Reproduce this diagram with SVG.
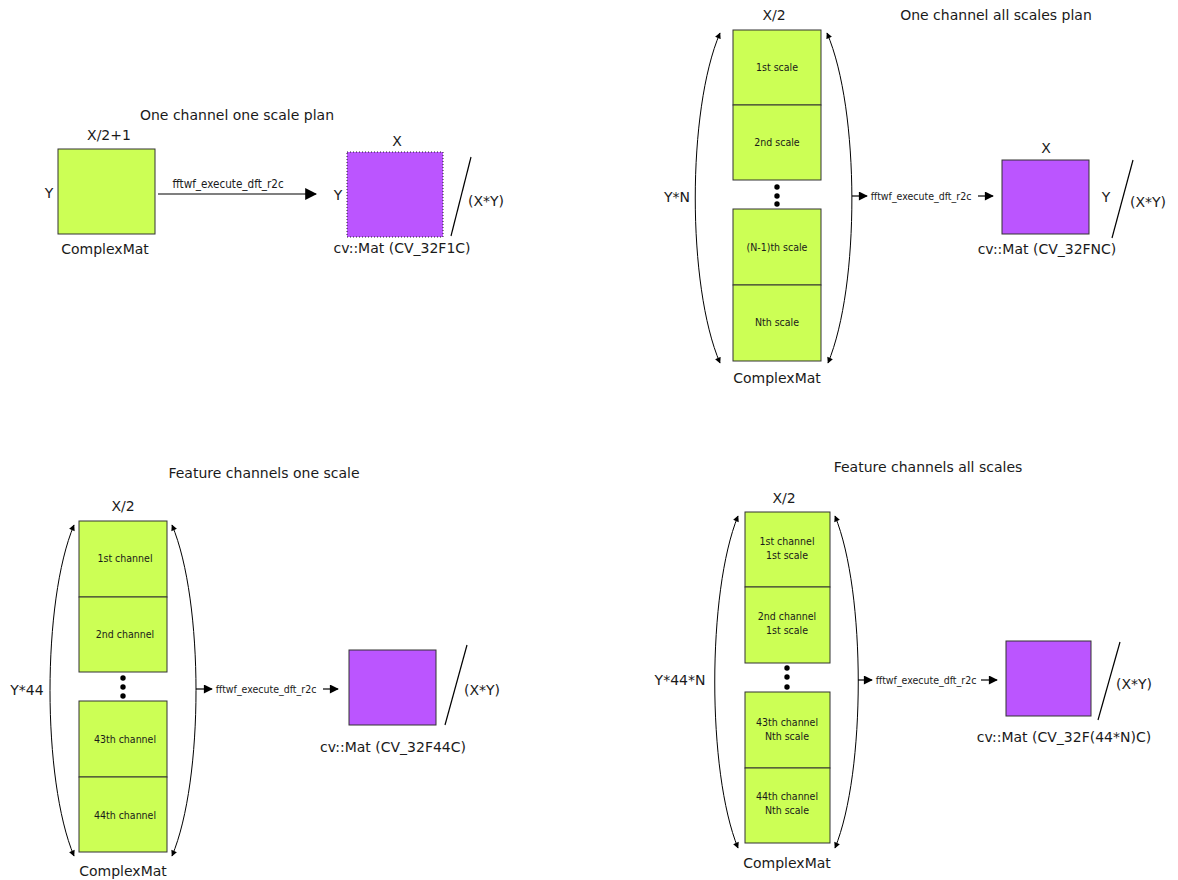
<svg xmlns="http://www.w3.org/2000/svg" width="1178" height="880" viewBox="0 0 1178 880">
  <style>
    text { font-family: "DejaVu Sans", "Liberation Sans", sans-serif; fill: #1a1a1a; }
    .lbl { font-size: 14px; text-anchor: middle; }
    .fn { font-family: "DejaVu Sans Condensed", "DejaVu Sans", sans-serif; font-stretch: condensed; font-size: 10.5px; text-anchor: middle; }
    .fn-big { font-size: 11.6px; }
    .cell-t { font-family: "DejaVu Sans Condensed", "DejaVu Sans", sans-serif; font-stretch: condensed; font-size: 10.5px; text-anchor: middle; }
    .cell { fill: #ccff55; stroke: #333; stroke-width: 1; }
    .mat { fill: #bb55ff; stroke: #333; stroke-width: 1; }
    .dotted { stroke: #222; stroke-dasharray: 1 2; }
    .dim { fill: none; stroke: #000; stroke-width: 1; marker-start: url(#tip); marker-end: url(#tip); }
    .flow { fill: none; stroke: #000; stroke-width: 1.2; marker-end: url(#head); }
    .slash { stroke: #000; stroke-width: 1.2; }
    .dot { fill: #000; }
  </style>
  <defs>
    <marker id="tip" viewBox="0 0 10 10" refX="9" refY="5" markerWidth="7" markerHeight="6" markerUnits="userSpaceOnUse" orient="auto-start-reverse">
      <path d="M0,0 L10,5 L0,10 Z" fill="#000"/>
    </marker>
    <marker id="head" viewBox="0 0 10 10" refX="9" refY="5" markerWidth="10" markerHeight="9" markerUnits="userSpaceOnUse" orient="auto">
      <path d="M0,0 L10,5 L0,10 Z" fill="#000"/>
    </marker>
    <marker id="headL" viewBox="0 0 10 10" refX="9" refY="5" markerWidth="12" markerHeight="13" markerUnits="userSpaceOnUse" orient="auto">
      <path d="M0,0 L10,5 L0,10 Z" fill="#000"/>
    </marker>
  </defs>

  <!-- ===== One channel one scale plan ===== -->
  <text class="lbl" x="237" y="120">One channel one scale plan</text>
  <g id="p1-complex">
    <rect class="cell" x="58" y="149" width="97" height="85"/>
    <text class="lbl" x="109" y="140">X/2+1</text>
    <text class="lbl" x="49" y="198">Y</text>
    <text class="lbl" x="105" y="254">ComplexMat</text>
  </g>
  <g id="p1-mat">
    <rect class="mat dotted" x="347" y="152" width="96" height="85"/>
    <text class="lbl" x="397" y="146">X</text>
    <text class="lbl" x="338" y="200">Y</text>
    <line class="slash" x1="471" y1="157" x2="451" y2="236"/>
    <text class="lbl" x="486" y="206">(X*Y)</text>
    <text class="lbl" x="402" y="253">cv::Mat (CV_32F1C)</text>
  </g>

  <!-- ===== One channel all scales plan ===== -->
  <text class="lbl" x="996" y="20">One channel all scales plan</text>
  <g id="p2-complex">
    <rect class="cell" x="733" y="30" width="88" height="75"/>
    <rect class="cell" x="733" y="105" width="88" height="75"/>
    <rect class="cell" x="733" y="209" width="88" height="76"/>
    <rect class="cell" x="733" y="285" width="88" height="76"/>
    <text class="cell-t" x="777" y="71">1st scale</text>
    <text class="cell-t" x="777" y="146">2nd scale</text>
    <text class="cell-t" x="777" y="251">(N-1)th scale</text>
    <text class="cell-t" x="777" y="326">Nth scale</text>
    <circle class="dot" cx="777" cy="187" r="2.7"/>
    <circle class="dot" cx="777" cy="196" r="2.7"/>
    <circle class="dot" cx="777" cy="204" r="2.7"/>
    <text class="lbl" x="774" y="20">X/2</text>
    <text class="lbl" x="677" y="202">Y*N</text>
    <text class="lbl" x="777" y="383">ComplexMat</text>
  </g>
  <g id="p2-mat">
    <rect class="mat" x="1002" y="160" width="87" height="74"/>
    <text class="lbl" x="1046" y="153">X</text>
    <text class="lbl" x="1106" y="202">Y</text>
    <line class="slash" x1="1133" y1="160" x2="1112" y2="238"/>
    <text class="lbl" x="1148" y="207">(X*Y)</text>
    <text class="lbl" x="1047" y="254">cv::Mat (CV_32FNC)</text>
  </g>

  <!-- ===== Feature channels one scale ===== -->
  <text class="lbl" x="264" y="478">Feature channels one scale</text>
  <g id="p3-complex">
    <rect class="cell" x="79" y="521" width="88" height="76"/>
    <rect class="cell" x="79" y="597" width="88" height="75"/>
    <rect class="cell" x="79" y="701" width="88" height="76"/>
    <rect class="cell" x="79" y="777" width="88" height="75"/>
    <text class="cell-t" x="125" y="562">1st channel</text>
    <text class="cell-t" x="125" y="638">2nd channel</text>
    <text class="cell-t" x="125" y="743">43th channel</text>
    <text class="cell-t" x="125" y="819">44th channel</text>
    <circle class="dot" cx="123" cy="678" r="2.7"/>
    <circle class="dot" cx="123" cy="687" r="2.7"/>
    <circle class="dot" cx="123" cy="696" r="2.7"/>
    <text class="lbl" x="123" y="511">X/2</text>
    <text class="lbl" x="27" y="695">Y*44</text>
    <text class="lbl" x="123" y="876">ComplexMat</text>
  </g>
  <g id="p3-mat">
    <rect class="mat" x="349" y="650" width="87" height="75"/>
    <line class="slash" x1="467" y1="645" x2="445" y2="725"/>
    <text class="lbl" x="482" y="695">(X*Y)</text>
    <text class="lbl" x="393" y="752">cv::Mat (CV_32F44C)</text>
  </g>

  <!-- ===== Feature channels all scales ===== -->
  <text class="lbl" x="928" y="472">Feature channels all scales</text>
  <g id="p4-complex">
    <rect class="cell" x="745" y="512" width="85" height="75"/>
    <rect class="cell" x="745" y="587" width="85" height="76"/>
    <rect class="cell" x="745" y="692" width="85" height="76"/>
    <rect class="cell" x="745" y="768" width="85" height="75"/>
    <text class="cell-t" x="787" y="545">1st channel</text>
    <text class="cell-t" x="787" y="559">1st scale</text>
    <text class="cell-t" x="787" y="620">2nd channel</text>
    <text class="cell-t" x="787" y="634">1st scale</text>
    <text class="cell-t" x="787" y="726">43th channel</text>
    <text class="cell-t" x="787" y="740">Nth scale</text>
    <text class="cell-t" x="787" y="800">44th channel</text>
    <text class="cell-t" x="787" y="814">Nth scale</text>
    <circle class="dot" cx="787" cy="668" r="2.7"/>
    <circle class="dot" cx="787" cy="677" r="2.7"/>
    <circle class="dot" cx="787" cy="687" r="2.7"/>
    <text class="lbl" x="784" y="503">X/2</text>
    <text class="lbl" x="680" y="685">Y*44*N</text>
    <text class="lbl" x="787" y="868">ComplexMat</text>
  </g>
  <g id="p4-mat">
    <rect class="mat" x="1006" y="641" width="85" height="75"/>
    <line class="slash" x1="1120" y1="642" x2="1098" y2="720"/>
    <text class="lbl" x="1134" y="689">(X*Y)</text>
    <text class="lbl" x="1064" y="742">cv::Mat (CV_32F(44*N)C)</text>
  </g>

  <!-- ===== Connectors ===== -->
  <g id="connectors">
    <!-- panel 1 -->
    <path class="flow" style="marker-end:url(#headL)" d="M158,194 H316"/>
    <text class="fn fn-big" x="228" y="188">fftwf_execute_dft_r2c</text>

    <!-- panel 2 -->
    <path class="dim" d="M720,33 C687,110 687,286 720,363"/>
    <path class="dim" d="M827,33 C860,110 860,286 828,363"/>
    <path class="flow" d="M852,196 H867"/>
    <text class="fn" x="921" y="200">fftwf_execute_dft_r2c</text>
    <path class="flow" d="M978,196 H993"/>

    <!-- panel 3 -->
    <path class="dim" d="M74,525 C42,601 42,780 74,856"/>
    <path class="dim" d="M172,525 C204,601 204,780 172,856"/>
    <path class="flow" d="M196,689 H212"/>
    <text class="fn" x="266" y="693">fftwf_execute_dft_r2c</text>
    <path class="flow" d="M323,689 H338"/>

    <!-- panel 4 -->
    <path class="dim" d="M738,516 C707,592 707,772 738,848"/>
    <path class="dim" d="M835,516 C866,592 866,772 835,848"/>
    <path class="flow" d="M858,680 H872"/>
    <text class="fn" x="926" y="684">fftwf_execute_dft_r2c</text>
    <path class="flow" d="M981,680 H997"/>
  </g>
</svg>
